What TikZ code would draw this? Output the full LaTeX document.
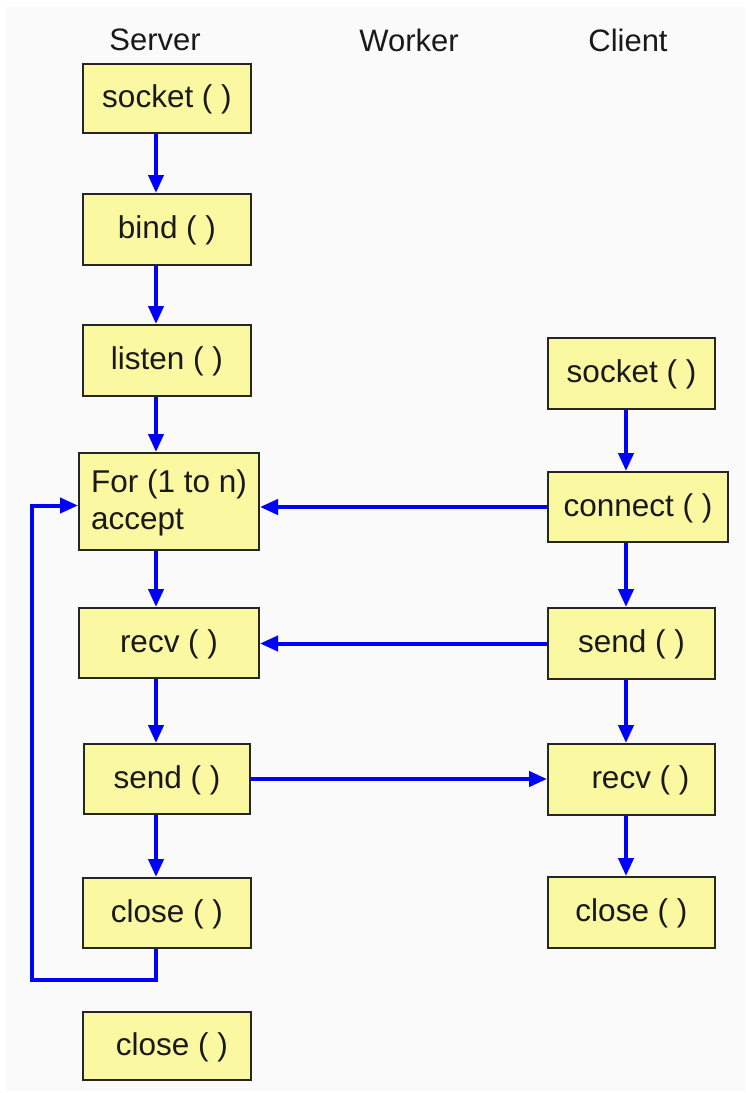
\documentclass[tikz,border=0pt]{standalone}
\usepackage{fontspec}
\setmainfont{Liberation Sans}
\usetikzlibrary{arrows.meta}
\definecolor{boxfill}{RGB}{250,248,160}
\definecolor{bgc}{RGB}{250,250,250}
\definecolor{txt}{RGB}{25,25,25}
\definecolor{arrblue}{RGB}{0,0,255}
\tikzset{
  box/.style={draw=black!85, line width=2pt, fill=boxfill, text=txt,
    font=\fontsize{31.5}{37}\selectfont, inner sep=0pt, align=left},
  onebox/.style={box, text height=25pt},
  hdr/.style={text=txt, font=\fontsize{31}{36}\selectfont, inner sep=0pt},
  arr/.style={draw=arrblue, line width=4pt, -{Triangle[width=15pt,length=18pt]}}
}
\begin{document}
\begin{tikzpicture}[x=1pt,y=1pt]
\useasboundingbox (0,0) rectangle (745,-1093);
\fill[white] (0,0) rectangle (745,-1093);
\fill[bgc] (6,-7) rectangle (745,-1091);
% headers
\node[hdr] (hserver) at (155,-40) {Server};
\node[hdr] (hworker) at (409,-40) {Worker};
\node[hdr] (hclient) at (628,-40) {Client};
% server column
\node[onebox, minimum width=168, minimum height=69] (ssock) at (167,-98.5) {socket ( )};
\node[onebox, minimum width=168, minimum height=71] (sbind) at (167,-229.5) {bind ( )};
\node[onebox, minimum width=168, minimum height=71] (slisten) at (167,-360.5) {listen ( )};
\node[box, minimum width=180, minimum height=97] (saccept) at (169,-501.5) {\strut For (1 to n)\\accept};
\node[onebox, minimum width=180, minimum height=70] (srecv) at (169,-643) {recv ( )};
\node[onebox, minimum width=166, minimum height=70] (ssend) at (167,-779) {send ( )};
\node[onebox, minimum width=168, minimum height=70] (sclose) at (167,-913) {close ( )};
\node[onebox, minimum width=168, minimum height=68] (sclosetwo) at (167,-1046) {\hspace*{10pt}close ( )};
% client column
\node[onebox, minimum width=167, minimum height=71] (csock) at (631.5,-373.5) {socket ( )};
\node[onebox, minimum width=180, minimum height=70] (cconn) at (638,-507) {connect ( )};
\node[onebox, minimum width=167, minimum height=71] (csend) at (631.5,-643.5) {send ( )};
\node[onebox, minimum width=167, minimum height=71] (crecv) at (631.5,-779.5) {\hspace*{18pt}recv ( )};
\node[onebox, minimum width=167, minimum height=71] (cclose) at (631.5,-912.5) {close ( )};
% column lines
\coordinate (sx) at (156,0);
\coordinate (cx) at (626,0);
\coordinate (lb) at (32,-980);
% server arrows
\draw[arr] (ssock.south -| sx) -- (sbind.north -| sx);
\draw[arr] (sbind.south -| sx) -- (slisten.north -| sx);
\draw[arr] (slisten.south -| sx) -- (saccept.north -| sx);
\draw[arr] (saccept.south -| sx) -- (srecv.north -| sx);
\draw[arr] (srecv.south -| sx) -- (ssend.north -| sx);
\draw[arr] (ssend.south -| sx) -- (sclose.north -| sx);
% client arrows
\draw[arr] (csock.south -| cx) -- (cconn.north -| cx);
\draw[arr] (cconn.south -| cx) -- (csend.north -| cx);
\draw[arr] (csend.south -| cx) -- (crecv.north -| cx);
\draw[arr] (crecv.south -| cx) -- (cclose.north -| cx);
% cross arrows
\draw[arr] (cconn.west) -- (cconn.west -| saccept.east);
\draw[arr] (csend.west) -- (csend.west -| srecv.east);
\draw[arr] (ssend.east) -- (ssend.east -| crecv.west);
% loop back
\draw[arr, line join=miter] (sclose.south -| sx) |- (lb) |- ([yshift=-4pt]saccept.west);
\end{tikzpicture}
\end{document}
